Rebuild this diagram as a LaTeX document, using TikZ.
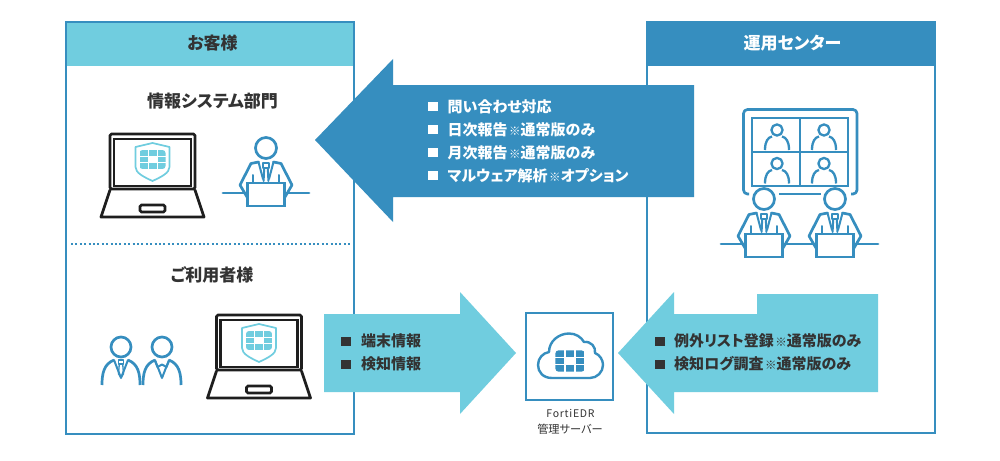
\documentclass[tikz,border=0pt]{standalone}
\usepackage{fontspec}
\setmainfont{Noto Sans CJK JP}[RawFeature=+palt]
\definecolor{lblue}{HTML}{70CDDF}
\definecolor{dblue}{HTML}{368EBF}
\definecolor{ink}{HTML}{333333}
\definecolor{lap}{HTML}{1E1E1E}
\newcommand{\kome}{\hspace{1.5pt}{\mdseries\fontsize{11.5}{12}\selectfont ※}}
\tikzset{
  x=1pt,y=-1pt,
  panel/.style={draw=dblue,line width=2pt},
  ico/.style={draw=dblue,line width=2.7pt,line join=round,line cap=round},
  thinico/.style={draw=dblue,line width=2pt,line join=round,line cap=round},
  head/.style={font=\bfseries\fontsize{17}{19}\selectfont,anchor=center,inner sep=0pt},
  item/.style={font=\bfseries\fontsize{15}{17}\selectfont,anchor=west,inner sep=0pt},
  logo/.pic={
    \begin{scope}
      \clip[rounded corners=3pt] (-13,-9.5) rectangle (13,9.5);
      \fill[pic actions] (-13,-9.5) rectangle (-5,-3.7);
      \fill[pic actions] (-4,-9.5) rectangle (4,-3.7);
      \fill[pic actions] (5,-9.5) rectangle (13,-3.7);
      \fill[pic actions] (-13,-2.7) rectangle (-5,2.7);
      \fill[pic actions] (5,-2.7) rectangle (13,2.7);
      \fill[pic actions] (-13,3.7) rectangle (-5,9.5);
      \fill[pic actions] (-4,3.7) rectangle (4,9.5);
      \fill[pic actions] (5,3.7) rectangle (13,9.5);
    \end{scope}
  },
  laptop/.pic={
    \draw[draw=lap,line width=2.8pt,line join=round,rounded corners=1.5pt] (-41,-27) rectangle (44,28);
    \draw[draw=lap,line width=2.8pt,line join=miter] (-37,-22) rectangle (40,25);
    \draw[draw=lap,line width=2.8pt,line join=round,line cap=round] (-41,29) -- (-50,56) -- (53,56) -- (44,29);
    \draw[draw=lap,line width=2.6pt,rounded corners=1.5pt] (-11,44) rectangle (14,51);
    \draw[draw=lblue,line width=1.7pt,line join=round] (1.5,-18) -- (18.5,-14) -- (18.5,6) .. controls (18.5,12) and (10,16) .. (1.5,20) .. controls (-7,16) and (-15.5,12) .. (-15.5,6) -- (-15.5,-14) -- cycle;
    \pic[fill=lblue] at (1.5,-1.5) {logo};
  },
  bust/.pic={
    \draw[ico] (0,0) circle (10.5pt);
    \draw[ico] (-7.5,14) -- (-15,15.5) -- (-26,37) -- (-19,49);
    \draw[ico] (7.5,14) -- (15,15.5) -- (26,37) -- (19,49);
    \draw[thinico] (-7.5,14) -- (-3,31);
    \draw[thinico] (7.5,14) -- (3,31);
    \draw[thinico] (-3,14.5) rectangle (3,20);
    \draw[thinico] (-1.8,20) -- (-2.4,33);
    \draw[thinico] (1.8,20) -- (2.4,33);
    \draw[thinico] (-13,27) -- (-13,35);
    \draw[thinico] (13,27) -- (13,35);
    \draw[ico,fill=white,line cap=butt,line join=miter] (-18.5,35) rectangle (18.5,58);
  },
  mini/.pic={
    \draw[thinico,line width=2.3pt] (0,0) circle (5.6pt);
    \draw[thinico,line width=2.3pt,line cap=butt] (-12,20) .. controls (-12,11) and (-9,7.5) .. (-5,6.5);
    \draw[thinico,line width=2.3pt,line cap=butt] (12,20) .. controls (12,11) and (9,7.5) .. (5,6.5);
  },
  standing/.pic={
    \draw[ico] (0,0) circle (10pt);
    \draw[ico,line cap=butt] (-19,38) .. controls (-19,26) and (-17,17) .. (-7,13);
    \draw[ico,line cap=butt] (19,38) .. controls (19,26) and (17,17) .. (7,13);
    \draw[thinico] (-7,13) -- (0,31) -- (7,13);
  },
}
\begin{document}
\begin{tikzpicture}
\useasboundingbox (0,0) rectangle (1000,460);
\fill[white] (0,0) rectangle (1000,460);
% panels
\fill[lblue] (66,22) rectangle (354,66);
\draw[panel] (66,22) rectangle (354,434);
\fill[dblue] (646,21) rectangle (936,66);
\draw[panel] (647,22) rectangle (935,433);
\node[head,text=ink] (customer) at (212.5,43.5) {お客様};
\node[head,text=white] (center) at (792.5,43.5) {運用センター};
\node[head,text=ink] (infosys) at (212.5,101) {情報システム部門};
\node[head,text=ink] (users) at (212,275) {ご利用者様};
\draw[dblue,line width=2pt,dash pattern=on 2pt off 2.4pt] (71,243.5) -- (350,243.5);
% icons left
\pic at (151,161) {laptop};
\pic at (266,148) {bust};
\draw[ico] (223,193) -- (247,193) (285,193) -- (309,193);
\pic at (257.5,342) {laptop};
\pic at (121,347) {standing};
\pic at (162,347) {standing};
\draw[thinico,line width=1.6pt] (118.5,360) rectangle (123.5,364);
\draw[thinico,line width=1.3pt] (119.3,364) -- (122.7,364) -- (123.5,374) -- (121,377) -- (118.5,374) -- cycle;
\draw[thinico] (155,361) -- (157.5,367) -- (162,364.5) -- (166.5,367) -- (169,361);
% icons right
\draw[ico,line cap=butt,rounded corners=4pt] (749,194) -- (743.5,194) -- (743.5,109.5) -- (857,109.5) -- (857,194) -- (851,194);
\draw[ico,line cap=butt] (779,194) -- (821,194);
\draw[ico,line join=miter] (752,118) rectangle (848,186);
\draw[ico,line cap=butt] (800,118) -- (800,186) (752,152) -- (848,152);
\pic at (777,130) {mini};
\pic at (824,130) {mini};
\pic at (777,163.5) {mini};
\pic at (824,163.5) {mini};
\draw[ico] (721,244) -- (745,244) (783,244) -- (816,244) (854,244) -- (878,244);
\pic at (764,199) {bust};
\pic at (835,199) {bust};
% arrows
\fill[dblue] (315,140) -- (393,59) -- (393,85) -- (694,85) -- (694,197) -- (393,197) -- (393,222) -- cycle;
\fill[lblue] (324,314) -- (460,314) -- (460,292) -- (516,353) -- (460,414) -- (460,392) -- (324,392) -- cycle;
\fill[lblue] (618,353) -- (674,292) -- (674,314) -- (757,314) -- (757,294) -- (878,294) -- (878,392) -- (674,392) -- (674,414) -- cycle;
% arrow 1 text
\foreach \y in {106.5,129.5,152.5,175.5} \fill[white] (428,\y-4.5) rectangle (438,\y+4.5);
\node[item,text=white] (t1) at (447.5,107) {問い合わせ対応};
\node[item,text=white] (t2) at (447.5,130) {日次報告\kome 通常版のみ};
\node[item,text=white] (t3) at (447.5,153) {月次報告\kome 通常版のみ};
\node[item,text=white] (t4) at (447.5,176) {マルウェア解析\kome オプション};
% arrow 2 text
\foreach \y in {341,364} \fill[ink] (341,\y-4.5) rectangle (351,\y+4.5);
\node[item,text=ink] (t5) at (361,341) {端末情報};
\node[item,text=ink] (t6) at (361,364) {検知情報};
% arrow 3 text
\foreach \y in {341,364} \fill[ink] (655,\y-4.5) rectangle (665,\y+4.5);
\node[item,text=ink] (t7) at (674,341) {例外リスト登録\kome 通常版のみ};
\node[item,text=ink] (t8) at (674,364) {検知ログ調査\kome 通常版のみ};
% server
\draw[dblue,line width=2.4pt,fill=white] (526,313) rectangle (613,400);
\draw[dblue,line width=2.4pt,line join=round] (552,378) .. controls (543,378) and (538,372) .. (538,365) .. controls (538,358) and (543,353) .. (549,352) .. controls (549,341) and (559,333.5) .. (569,333.5) .. controls (576,333.5) and (581,337) .. (584,342) .. controls (591,341) and (596,347) .. (595,353) .. controls (600,355) and (603,360) .. (603,365) .. controls (603,372) and (597,378) .. (590,378) -- cycle;
\pic[fill=dblue,scale=1.12] at (570,361) {logo};
\node[inner sep=0pt,text=ink,font=\fontsize{10.5}{12}\selectfont\addfontfeature{LetterSpace=7}] (forti) at (570.5,413) {FortiEDR};
\node[inner sep=0pt,text=ink,font=\fontsize{11.2}{12}\selectfont] (mgmt) at (570,429) {管理サーバー};
\end{tikzpicture}
\end{document}
